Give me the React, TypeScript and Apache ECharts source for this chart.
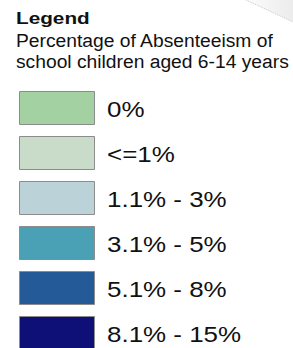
import React, { useEffect, useRef } from "react";
import * as echarts from "echarts";

const titleText = "Legend";
const subtitleLines = ["Percentage of Absenteeism of", "school children aged 6-14 years"];
const classLabels = ["0%", "<=1%", "1.1% - 3%", "3.1% - 5%", "5.1% - 8%", "8.1% - 15%"];
const classColors = ["#a3d1a2", "#c9dcca", "#bbd2d8", "#4aa0b4", "#235a97", "#0f0f78"];

export default function App() {
  const ref = useRef<HTMLDivElement>(null);
  useEffect(() => {
    if (!ref.current) return;
    const chart = echarts.init(ref.current, undefined, { renderer: "svg" });
    const fontFamily = "Liberation Sans";
    const elements: any[] = [];
    // top-right faint shadow
    elements.push({
      type: "polygon",
      shape: { points: [[246, 0], [293, 0], [293, 22]] },
      style: {
        fill: new echarts.graphic.LinearGradient(0, 0, 1, 0, [
          { offset: 0, color: "#fbfbfb" },
          { offset: 1, color: "#ececec" },
        ]),
      },
      silent: true,
    });
    elements.push({
      type: "line",
      shape: { x1: 246, y1: 0, x2: 293, y2: 22 },
      style: { stroke: "#c8c8c8", lineWidth: 1, lineDash: [1, 1] },
      silent: true,
    });
    elements.push({
      type: "text",
      x: 16,
      y: 18.5,
      scaleX: 1.22,
      style: {
        text: titleText,
        fontSize: 17,
        fontWeight: "bold",
        fontFamily,
        fill: "#111",
        align: "left",
        verticalAlign: "middle",
      },
    });
    subtitleLines.forEach((line, i) => {
      elements.push({
        type: "text",
        x: 16,
        y: 40.5 + i * 21.5,
        scaleX: 1.07,
        style: {
          text: line,
          fontSize: 18,
          fontFamily,
          fill: "#111",
          align: "left",
          verticalAlign: "middle",
        },
      });
    });
    classLabels.forEach((label, i) => {
      const y = 91 + i * 45;
      elements.push({
        type: "rect",
        shape: { x: 19.5, y: y + 0.5, width: 75, height: 33 },
        style: { fill: classColors[i], stroke: "#8c8c8c", lineWidth: 1 },
      });
      elements.push({
        type: "text",
        x: 107,
        y: y + 18,
        scaleX: 1.18,
        style: {
          text: label,
          fontSize: 22,
          fontFamily,
          fill: "#111",
          align: "left",
          verticalAlign: "middle",
        },
      });
    });
    chart.setOption({
      animation: false,
      backgroundColor: "#ffffff",
      graphic: { elements },
    });
    return () => chart.dispose();
  }, []);
  return (
    <div
      ref={ref}
      style={{ position: "fixed", left: 0, top: 0, width: 293, height: 348 }}
    />
  );
}
